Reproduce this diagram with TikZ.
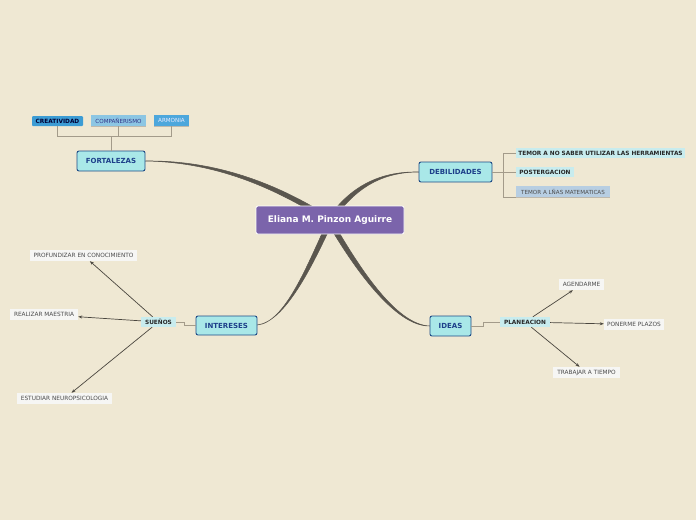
\documentclass[tikz,border=0pt]{standalone}
\usepackage{fontspec}
\setmainfont{DejaVu Sans}
\usetikzlibrary{arrows.meta}
\definecolor{bgc}{HTML}{EFE8D3}
\definecolor{mainc}{HTML}{7B64AB}
\definecolor{topicf}{HTML}{A9E8E8}
\definecolor{topicd}{HTML}{1D4A86}
\definecolor{topict}{HTML}{1D3F8A}
\definecolor{subf}{HTML}{C8ECEE}
\definecolor{leaff}{HTML}{F6F6F4}
\definecolor{leaft}{HTML}{4A4A4A}
\definecolor{creaf}{HTML}{3C9CD4}
\definecolor{compf}{HTML}{8CC6E3}
\definecolor{armof}{HTML}{4DA7DC}
\definecolor{tem2f}{HTML}{B7CEE2}
\definecolor{treec}{HTML}{A39B8A}
\definecolor{arrc}{HTML}{4A463F}
\definecolor{curvec}{HTML}{5A564E}
\tikzset{
  mainbox/.style={fill=mainc, draw=white, line width=0.8pt, rounded corners=2pt, text=white,
    font=\fontsize{9}{10}\selectfont\bfseries, minimum width=148pt, minimum height=28pt, inner sep=0pt},
  topic/.style={fill=topicf, draw=topicd, line width=0.9pt, rounded corners=2pt, text=topict,
    font=\fontsize{7}{8}\selectfont\bfseries, minimum height=20pt, inner sep=0pt},
  sub/.style={fill=subf, text=black!85, font=\fontsize{5.8}{6}\selectfont\bfseries,
    minimum height=10pt, inner sep=0pt},
  leaf/.style={fill=leaff, text=leaft, font=\fontsize{5.8}{6}\selectfont,
    minimum height=11pt, inner sep=0pt},
  tree/.style={draw=treec, line width=0.7pt},
  arr/.style={draw=arrc, line width=0.7pt, -{Stealth[length=4pt,width=3pt]}},
  branch/.style={fill=curvec, draw=curvec, line width=0.5pt}
}
\begin{document}
\begin{tikzpicture}[x=1pt,y=-1pt]
\fill[bgc] (0,0) rectangle (696,520);
\useasboundingbox (0,0) rectangle (696,520);

% main tapered branches
\fill[branch] (145,161) .. controls (215,162) and (273.5,187) .. (328.5,222)
  -- (331.5,218) .. controls (276.5,183) and (215,160) .. (145,161) -- cycle;
\fill[branch] (419,172) .. controls (380,172) and (354,189.5) .. (332,221.5)
  -- (328,218.5) .. controls (350,186.5) and (380,171) .. (419,172) -- cycle;
\fill[branch] (257,325) .. controls (285,322) and (312.3,266) .. (332.3,223)
  -- (327.7,221) .. controls (307.7,264) and (285,323) .. (257,325) -- cycle;
\fill[branch] (430,326) .. controls (395,325) and (357.2,263.8) .. (332.2,220.8)
  -- (327.8,223.2) .. controls (352.8,266.2) and (395,327) .. (430,326) -- cycle;

% nodes
\node[mainbox] (main) at (330,220) {Eliana M. Pinzon Aguirre};
\node[topic, minimum width=68pt] (fort) at (111,161) {FORTALEZAS};
\node[topic, minimum width=73pt] (deb) at (455.5,172) {DEBILIDADES};
\node[topic, minimum width=61pt, minimum height=19pt] (int) at (226.5,325.5) {INTERESES};
\node[topic, minimum width=41pt] (ideas) at (450.5,326) {IDEAS};

\node[sub, fill=creaf, text=black!80!blue, minimum width=51pt, rounded corners=1pt] (creat) at (57.5,121) {CREATIVIDAD};
\node[sub, fill=compf, text=black!45!blue!60!gray, font=\fontsize{5.6}{6}\selectfont, minimum width=55pt, minimum height=11pt] (compa) at (118.5,120.5) {COMPAÑERISMO};
\node[sub, fill=armof, text=white!92!blue, font=\fontsize{5.6}{6}\selectfont, minimum width=35pt, minimum height=11pt] (armo) at (171.5,120.5) {ARMONIA};

\node[sub, minimum width=169pt] (tem1) at (600.5,153) {TEMOR A NO SABER UTILIZAR LAS HERRAMIENTAS};
\node[sub, minimum width=58pt] (post) at (545,172) {POSTERGACION};
\node[sub, fill=tem2f, text=black!70, font=\fontsize{5.6}{6}\selectfont, minimum width=94pt, minimum height=11pt] (tem2) at (563,191.5) {TEMOR A LÑAS MATEMATICAS};

\node[sub, minimum width=35pt] (suen) at (158.5,322) {SUEÑOS};
\node[leaf, minimum width=107pt] (prof) at (83.5,255.5) {PROFUNDIZAR EN CONOCIMIENTO};
\node[leaf, minimum width=68pt] (real) at (44,314.5) {REALIZAR MAESTRIA};
\node[leaf, minimum width=95pt] (estu) at (64.5,398.5) {ESTUDIAR NEUROPSICOLOGIA};

\node[sub, minimum width=50pt] (plan) at (525,322) {PLANEACION};
\node[leaf, minimum width=45pt] (agen) at (581.5,284.5) {AGENDARME};
\node[leaf, minimum width=60pt] (pon) at (634,324.5) {PONERME PLAZOS};
\node[leaf, minimum width=67pt] (trab) at (586.5,372.5) {TRABAJAR A TIEMPO};

% underline shadows
\draw[treec!70, line width=0.6pt] (compa.south west) -- (compa.south east);
\draw[treec!70, line width=0.6pt] (armo.south west) -- (armo.south east);
\draw[treec!70, line width=0.6pt] (tem2.south west) -- (tem2.south east);

% fortalezas tree
\coordinate (jf) at (111,136);
\draw[tree] (fort.north) -- (jf);
\draw[tree] (creat.south) |- (jf);
\draw[tree] (compa.south) |- (jf);
\draw[tree] (armo.south) |- (jf);

% debilidades tree
\coordinate (jd) at (503,172);
\draw[tree] (deb.east) -- (jd);
\draw[tree] (jd) |- (tem1.west);
\draw[tree] (jd) -- (post.west);
\draw[tree] (jd) |- (tem2.south west);

% intereses / ideas links
\draw[tree] (int.west) -- ++(-11,0) |- (suen.east);
\draw[tree] (ideas.east) -- ++(12,0) |- (plan.west);

% arrows
\draw[arr] (suen) -- (prof);
\draw[arr] (suen) -- (real);
\draw[arr] (suen) -- (estu);
\draw[arr] (plan) -- (agen);
\draw[arr] (plan) -- (pon);
\draw[arr] (plan) -- (trab);
\end{tikzpicture}
\end{document}
